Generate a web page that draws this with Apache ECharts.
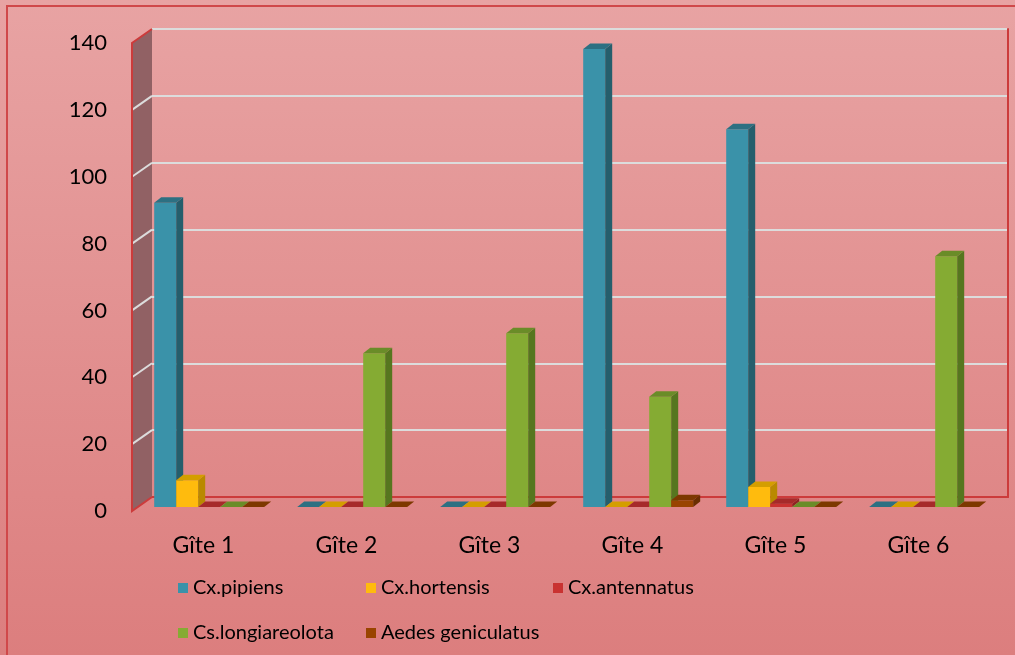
<!DOCTYPE html>
<html>
<head>
<meta charset="utf-8">
<script src="https://cdn.jsdelivr.net/npm/echarts@6/dist/echarts.min.js"></script>
<style>
  html, body { margin: 0; padding: 0; }
  #chart { width: 1015px; height: 655px; }
</style>
</head>
<body>
<div id="chart"></div>
<script>
// Larval counts per breeding site and species
const categories = ['Gîte 1', 'Gîte 2', 'Gîte 3', 'Gîte 4', 'Gîte 5', 'Gîte 6'];
const speciesNames = ['Cx.pipiens', 'Cx.hortensis', 'Cx.antennatus', 'Cs.longiareolota', 'Aedes geniculatus'];
const cxPipiens = [91, 0, 0, 137, 113, 0];
const cxHortensis = [8, 0, 0, 0, 6, 0];
const cxAntennatus = [0, 0, 0, 0, 1, 0];
const csLongiareolota = [0, 46, 52, 33, 0, 75];
const aedesGeniculatus = [0, 0, 0, 2, 0, 0];
const yTicks = [0, 20, 40, 60, 80, 100, 120, 140];

const seriesValues = [cxPipiens, cxHortensis, cxAntennatus, csLongiareolota, aedesGeniculatus];

// Face colours for each species: front, side, top
const palette = [
  { front: '#3a92a9', side: '#255e6c', top: '#2d7082' },
  { front: '#ffbb0d', side: '#b98900', top: '#d49e00' },
  { front: '#c93231', side: '#8f2222', top: '#a62a2a' },
  { front: '#85ab33', side: '#56761f', top: '#6a8c28' },
  { front: '#994400', side: '#6a2e00', top: '#7d3800' }
];

const FONT = 'Lato, "DejaVu Sans", sans-serif';
// Perspective offsets of the chart box (front plane -> back wall)
const WALL_DX = 20, WALL_DY = -14;
// Bars sit slightly behind the front plane and have a shallow depth
const BAR_OFF_X = 5.7, BAR_OFF_Y = -4;
const BAR_DX = 7, BAR_DY = -5.5;

const FRONT = { left: 132, top: 43, width: 858, height: 468 };
const BACK = {
  left: FRONT.left + WALL_DX, top: FRONT.top + WALL_DY,
  width: 856, height: FRONT.height
};

const yMin = yTicks[0], yMax = yTicks[yTicks.length - 1];
const yStep = yTicks[1] - yTicks[0];

function sideWall(params, api) {
  const bw = api.size([1, 0])[0];
  const c0 = api.coord([0, yMin]);
  const left = c0[0] - bw / 2;
  const yb = c0[1];
  const yt = api.coord([0, yMax])[1];
  const children = [{
    type: 'polygon',
    shape: { points: [[left, yb], [left, yt], [left + WALL_DX, yt + WALL_DY], [left + WALL_DX, yb + WALL_DY]] },
    style: { fill: '#916164' }
  }];
  yTicks.forEach(function (t) {
    if (t === yMin || t === yMax) return;
    const y = api.coord([0, t])[1];
    children.push({
      type: 'line',
      shape: { x1: left, y1: y, x2: left + WALL_DX, y2: y + WALL_DY },
      style: { stroke: '#dcdcdc', lineWidth: 2 }
    });
  });
  children.push({
    type: 'polyline',
    shape: { points: [[left + WALL_DX, yt + WALL_DY], [left, yt], [left, yb], [left + WALL_DX, yb + WALL_DY]] },
    style: { stroke: '#cc3b3b', lineWidth: 2, fill: null }
  });
  return { type: 'group', children: children };
}

function barRenderer(i) {
  const col = palette[i];
  return function (params, api) {
    const j = api.value(0);
    const v = api.value(1);
    const bw = api.size([1, 0])[0];
    const barW = bw / 6.5;
    const base = api.coord([j, 0]);
    const top = api.coord([j, v]);
    const x = base[0] - bw / 2 + barW * 0.75 + BAR_OFF_X + i * barW;
    const yb = base[1] + BAR_OFF_Y;
    const yt = top[1] + BAR_OFF_Y;
    const children = [];
    if (v > 0) {
      children.push({
        type: 'rect',
        shape: { x: x, y: yt, width: barW, height: yb - yt },
        style: { fill: col.front }
      });
      children.push({
        type: 'polygon',
        shape: { points: [[x + barW, yb], [x + barW, yt], [x + barW + BAR_DX, yt + BAR_DY], [x + barW + BAR_DX, yb + BAR_DY]] },
        style: { fill: col.side }
      });
    }
    children.push({
      type: 'polygon',
      shape: { points: [[x, yt], [x + barW, yt], [x + barW + BAR_DX, yt + BAR_DY], [x + BAR_DX, yt + BAR_DY]] },
      style: { fill: col.top }
    });
    return { type: 'group', children: children };
  };
}

const chart = echarts.init(document.getElementById('chart'));

const series = [{
  type: 'custom',
  name: 'wall',
  xAxisIndex: 0, yAxisIndex: 0,
  data: [[0, 0]],
  renderItem: sideWall,
  clip: false,
  silent: true,
  z: 1
}];
seriesValues.forEach(function (vals, i) {
  series.push({
    type: 'custom',
    name: speciesNames[i],
    xAxisIndex: 0, yAxisIndex: 0,
    data: vals.map(function (v, j) { return [j, v]; }),
    encode: { x: 0, y: 1 },
    renderItem: barRenderer(i),
    itemStyle: { color: palette[i].front },
    clip: false,
    z: 3
  });
});

// Legend laid out as a 3-column grid, one legend component per entry
const LEGEND_COL_X = [178, 366, 553];
const LEGEND_ROW_Y = [578, 623];
const legends = speciesNames.map(function (name, k) {
  return {
    data: [name],
    left: LEGEND_COL_X[k % 3],
    top: LEGEND_ROW_Y[Math.floor(k / 3)],
    padding: 0,
    itemWidth: 10,
    itemHeight: 10,
    icon: 'rect',
    selectedMode: false,
    textStyle: { fontFamily: FONT, fontSize: 20, color: '#000' }
  };
});

chart.setOption({
  animation: false,
  backgroundColor: {
    type: 'linear', x: 0, y: 0, x2: 0, y2: 1,
    colorStops: [{ offset: 0, color: '#e8a3a3' }, { offset: 1, color: '#dc7e7e' }]
  },
  graphic: [{
    type: 'rect',
    shape: { x: 7, y: 6, width: 1030, height: 680 },
    style: { fill: null, stroke: '#d0484a', lineWidth: 2 },
    silent: true
  }],
  legend: legends,
  grid: [
    Object.assign({}, FRONT),
    Object.assign({}, BACK)
  ],
  xAxis: [{
    type: 'category',
    gridIndex: 0,
    data: categories,
    axisLine: { show: false },
    axisTick: { show: false },
    axisLabel: { fontFamily: FONT, fontSize: 23, color: '#000', margin: 23 }
  }, {
    type: 'category',
    gridIndex: 1,
    data: categories,
    axisLine: { show: true, lineStyle: { color: '#cc3b3b', width: 2 } },
    axisTick: { show: false },
    axisLabel: { show: false }
  }],
  yAxis: [{
    type: 'value',
    gridIndex: 0,
    min: yMin, max: yMax, interval: yStep,
    axisLine: { show: false },
    axisTick: { show: false },
    splitLine: { show: false },
    axisLabel: { fontFamily: FONT, fontSize: 22, color: '#000', margin: 25 }
  }, {
    type: 'value',
    gridIndex: 1,
    position: 'right',
    min: yMin, max: yMax, interval: yStep,
    axisLine: { show: true, lineStyle: { color: '#cc3b3b', width: 2 } },
    axisTick: { show: false },
    axisLabel: { show: false },
    splitLine: { show: true, lineStyle: { color: '#dcdcdc', width: 2 } }
  }],
  series: series
});
</script>
</body>
</html>
